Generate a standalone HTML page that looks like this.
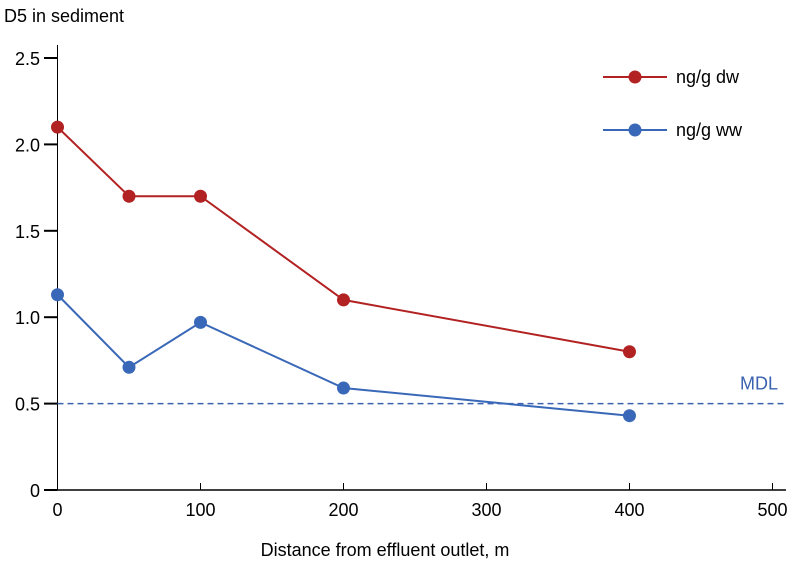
<!DOCTYPE html><html><head><meta charset="utf-8"><style>body{margin:0;background:#fff}svg{display:block;font-family:"Liberation Sans",sans-serif}</style></head><body>
<svg id="c" width="800" height="569"></svg>
<script>
const xValues=[0,50,100,200,400];
const dwValues=[2.1,1.7,1.7,1.1,0.8];
const wwValues=[1.13,0.71,0.97,0.59,0.43];
const xTicks=[0,100,200,300,400,500];
const yTicks=[0,0.5,1.0,1.5,2.0,2.5];
const yTickLabels=["0","0.5","1.0","1.5","2.0","2.5"];
const mdl=0.5;
const NS="http://www.w3.org/2000/svg",s=document.getElementById('c');
const X=v=>57.5+v*1.43, Y=v=>490-v*172.8;
function el(t,a,txt){const e=document.createElementNS(NS,t);for(const k in a)e.setAttribute(k,a[k]);if(txt!=null)e.textContent=txt;s.appendChild(e);return e;}
let e;
e=el('line',{x1:48,y1:490,x2:786,y2:490,stroke:'#000','stroke-width':1.5});
e=el('line',{x1:57.5,y1:490,x2:57.5,y2:45,stroke:'#000','stroke-width':1});
xTicks.forEach(t=>{e=el('line',{x1:X(t),y1:490,x2:X(t),y2:483,stroke:'#000'});
e=el('text',{x:X(t),y:516,'font-size':18,'text-anchor':'middle'},t);});
yTicks.forEach((t,i)=>{e=el('line',{x1:44,y1:Y(t),x2:57.5,y2:Y(t),stroke:'#000','stroke-width':2});
e=el('text',{x:40,y:Y(t)+7,'font-size':18,'text-anchor':'end'},yTickLabels[i]);});
e=el('text',{x:4,y:22,'font-size':18},'D5 in sediment');
e=el('text',{x:385,y:556,'font-size':18,'text-anchor':'middle'},'Distance from effluent outlet, m');
e=el('line',{x1:57.5,y1:Y(mdl),x2:786,y2:Y(mdl),stroke:'#3a62b0','stroke-width':1.5,'stroke-dasharray':'6,4'});
e=el('text',{x:778,y:Y(mdl)-14,'font-size':18,fill:'#3a62b0','text-anchor':'end'},'MDL');
function series(vals,col,name){e=el('polyline',{points:vals.map((v,i)=>X(xValues[i])+','+Y(v)).join(' '),fill:'none',stroke:col,'stroke-width':2});
vals.forEach((v,i)=>{e=el('circle',{cx:X(xValues[i]),cy:Y(v),r:6.5,fill:col});});}
series(dwValues,'#b22222','dw');series(wwValues,'#3a68b8','ww');
[['#b22222','ng/g dw',77],['#3a68b8','ng/g ww',130]].forEach(([c,l,y])=>{
e=el('line',{x1:603,y1:y,x2:667,y2:y,stroke:c,'stroke-width':2});
e=el('circle',{cx:635,cy:y,r:6.5,fill:c});
e=el('text',{x:676,y:y+6,'font-size':18},l);});
</script></body></html>
